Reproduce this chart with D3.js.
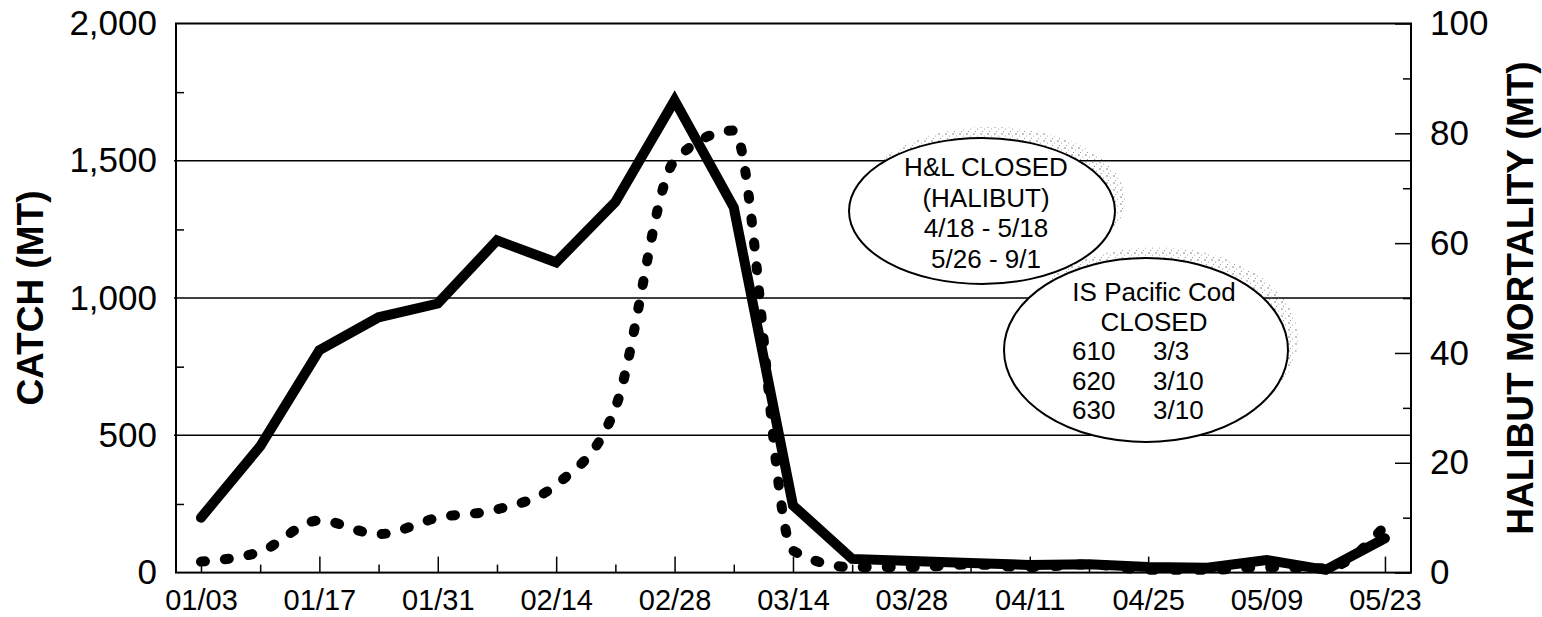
<!DOCTYPE html>
<html>
<head>
<meta charset="utf-8">
<script src="https://cdn.jsdelivr.net/npm/d3@7"></script>
<style>
    body { margin: 0; background: white; }
    svg { display: block; font-family: "Liberation Sans", Arial, sans-serif; }
</style>
</head>
<body>
<svg id="chart" width="1542" height="617"></svg>
<script>
// weekly dates (week ending)
var weeks = ["01/03", "01/10", "01/17", "01/24", "01/31", "02/07", "02/14", "02/21", "02/28", "03/07",
    "03/14", "03/21", "03/28", "04/04", "04/11", "04/18", "04/25", "05/02", "05/09", "05/16", "05/23"];

// catch in MT (left axis)
var catchMT = [200, 460, 810, 930, 980, 1210, 1130, 1350, 1720, 1330,
    245, 50, 42, 35, 28, 30, 20, 18, 46, 10, 125];

// halibut mortality in MT (right axis)
var halibutMT = [2, 3.8, 9.5, 7, 10, 11.5, 16, 30, 75, 80.5,
    4, 1, 1, 1.5, 1, 1.5, 0.5, 0.5, 1, 0.8, 8.5];

var catchTicks = [0, 500, 1000, 1500, 2000];
var catchMinor = [250, 750, 1250, 1750];
var halibutTicks = [0, 20, 40, 60, 80, 100];
var halibutMinor = [10, 30, 50, 70, 90];

var halibutNote = ["H&L CLOSED", "(HALIBUT)", "4/18 - 5/18", "5/26 - 9/1"];
var codNote = ["IS Pacific Cod", "CLOSED"];
var codAreas = ["610", "620", "630"];
var codDates = ["3/3", "3/10", "3/10"];

var svg = d3.select("#chart");

var plotLeft = 176, plotRight = 1411, plotTop = 23.5, plotBottom = 572.6;

var x = d3.scaleLinear().domain([-0.422, 20.44]).range([plotLeft, plotRight]);
var yLeft = d3.scaleLinear().domain([0, 2000]).range([plotBottom, plotTop]);
var yRight = d3.scaleLinear().domain([0, 100]).range([plotBottom, plotTop]);

// sparse stipple for the oval shadows
var defs = svg.append("defs");
var pat = defs.append("pattern")
    .attr("id", "stipple")
    .attr("width", 7)
    .attr("height", 7)
    .attr("patternUnits", "userSpaceOnUse");
pat.append("circle").attr("cx", 1).attr("cy", 1).attr("r", 0.8).attr("fill", "#777");
pat.append("circle").attr("cx", 4.5).attr("cy", 3).attr("r", 0.6).attr("fill", "#999");
pat.append("circle").attr("cx", 2.5).attr("cy", 5.5).attr("r", 0.6).attr("fill", "#888");

// gridlines
svg.append("g")
    .selectAll("line")
    .data([500, 1000, 1500])
    .enter()
    .append("line")
    .attr("x1", plotLeft - 2)
    .attr("x2", plotRight)
    .attr("y1", function (d) { return yLeft(d); })
    .attr("y2", function (d) { return yLeft(d); })
    .attr("stroke", "black")
    .attr("stroke-width", 1.5);

function styleAxis(g) {
    g.select(".domain").remove();
    g.selectAll(".tick line").attr("stroke", "black").attr("stroke-width", 1.5);
    g.selectAll("text").attr("fill", "black");
}

// left axis
svg.append("g")
    .attr("transform", "translate(" + plotLeft + ",0)")
    .call(d3.axisLeft(yLeft).tickValues(catchMinor).tickSize(-8).tickFormat(""))
    .call(styleAxis);

svg.append("g")
    .attr("transform", "translate(" + plotLeft + ",0)")
    .call(d3.axisLeft(yLeft).tickValues(catchTicks).tickSize(0).tickPadding(19).tickFormat(d3.format(",")))
    .call(styleAxis)
    .selectAll("text")
    .style("font-size", "35px");

// right axis
svg.append("g")
    .attr("transform", "translate(" + plotRight + ",0)")
    .call(d3.axisRight(yRight).tickValues(halibutMinor).tickSize(-8).tickFormat(""))
    .call(styleAxis);

svg.append("g")
    .attr("transform", "translate(" + plotRight + ",0)")
    .call(d3.axisRight(yRight).tickValues(halibutTicks).tickSize(-16).tickPadding(19))
    .call(styleAxis)
    .selectAll("text")
    .style("font-size", "35px");

// bottom axis
var idx = d3.range(weeks.length);
svg.append("g")
    .attr("transform", "translate(0," + plotBottom + ")")
    .call(d3.axisBottom(x).tickValues(idx.filter(function (i) { return i % 2 == 1; })).tickSize(-8).tickFormat(""))
    .call(styleAxis);

svg.append("g")
    .attr("transform", "translate(0," + plotBottom + ")")
    .call(d3.axisBottom(x).tickValues(idx.filter(function (i) { return i % 2 == 0; }))
        .tickSize(-16).tickPadding(17)
        .tickFormat(function (i) { return weeks[i]; }))
    .call(styleAxis)
    .selectAll("text")
    .style("font-size", "29px");

// frame
svg.append("rect")
    .attr("x", plotLeft)
    .attr("y", plotTop)
    .attr("width", plotRight - plotLeft)
    .attr("height", plotBottom - plotTop)
    .attr("fill", "none")
    .attr("stroke", "black")
    .attr("stroke-width", 2);

// axis titles
svg.append("text")
    .attr("transform", "translate(43," + (plotTop + plotBottom) / 2 + ") rotate(-90)")
    .attr("text-anchor", "middle")
    .style("font-size", "37px")
    .style("font-weight", "bold")
    .text("CATCH (MT)");

svg.append("text")
    .attr("transform", "translate(1533," + (plotTop + plotBottom) / 2 + ") rotate(-90)")
    .attr("text-anchor", "middle")
    .style("font-size", "37px")
    .style("font-weight", "bold")
    .text("HALIBUT MORTALITY (MT)");

// annotation ovals
function oval(cx, cy, rx, ry) {
    svg.append("ellipse")
        .attr("cx", cx + 10)
        .attr("cy", cy - 11)
        .attr("rx", rx)
        .attr("ry", ry)
        .attr("fill", "url(#stipple)");
    svg.append("ellipse")
        .attr("cx", cx)
        .attr("cy", cy)
        .attr("rx", rx)
        .attr("ry", ry)
        .attr("fill", "white")
        .attr("stroke", "black")
        .attr("stroke-width", 2);
}

oval(982, 211, 133, 73);
svg.append("g")
    .selectAll("text")
    .data(halibutNote)
    .enter()
    .append("text")
    .attr("x", 986)
    .attr("y", function (d, i) { return 176 + i * 30.7; })
    .attr("text-anchor", "middle")
    .style("font-size", "26px")
    .text(function (d) { return d; });

oval(1146, 350, 142, 92);
svg.append("g")
    .selectAll("text")
    .data(codNote)
    .enter()
    .append("text")
    .attr("x", 1154)
    .attr("y", function (d, i) { return 301 + i * 29.5; })
    .attr("text-anchor", "middle")
    .style("font-size", "26px")
    .text(function (d) { return d; });

svg.append("g")
    .selectAll("text")
    .data(codAreas)
    .enter()
    .append("text")
    .attr("x", 1072)
    .attr("y", function (d, i) { return 360 + i * 29.5; })
    .style("font-size", "26px")
    .text(function (d) { return d; });

svg.append("g")
    .selectAll("text")
    .data(codDates)
    .enter()
    .append("text")
    .attr("x", 1153)
    .attr("y", function (d, i) { return 360 + i * 29.5; })
    .style("font-size", "26px")
    .text(function (d) { return d; });

// halibut mortality line (dotted)
var halibutLine = d3.line()
    .x(function (d, i) { return x(i); })
    .y(function (d) { return yRight(d); })
    .curve(d3.curveMonotoneX);

svg.append("path")
    .datum(halibutMT)
    .attr("d", halibutLine)
    .attr("fill", "none")
    .attr("stroke", "black")
    .attr("stroke-width", 10)
    .attr("stroke-linecap", "round")
    .attr("stroke-dasharray", "4,20");

// catch line (solid)
var catchLine = d3.line()
    .x(function (d, i) { return x(i); })
    .y(function (d) { return yLeft(d); });

svg.append("path")
    .datum(catchMT)
    .attr("d", catchLine)
    .attr("fill", "none")
    .attr("stroke", "black")
    .attr("stroke-width", 10)
    .attr("stroke-linejoin", "miter")
    .attr("stroke-linecap", "round");
</script>
</body>
</html>
